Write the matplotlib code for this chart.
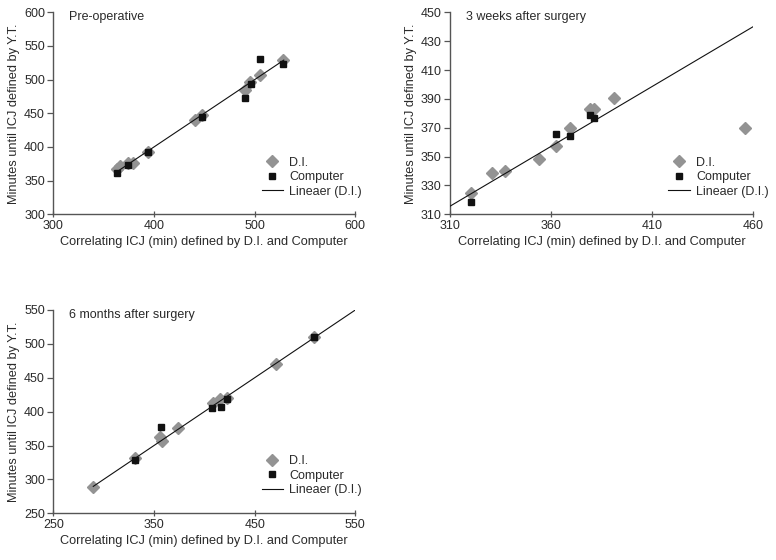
import matplotlib
matplotlib.use("Agg")
import matplotlib.pyplot as plt

plt.rcParams["font.family"] = ["Liberation Sans", "DejaVu Sans"]

# --- data --------------------------------------------------------------
# Pre-operative
pre_di_x = [363.6, 366.3, 374.5, 379.5, 394.4, 440.8, 447.4, 490.4, 495.4, 505.3, 527.9]
pre_di_y = [366.8, 371.7, 376.6, 376.6, 393.0, 440.0, 447.5, 484.6, 496.9, 506.9, 529.2]
pre_pc_x = [363.6, 374.5, 394.4, 447.4, 490.4, 496.1, 505.3, 527.9]
pre_pc_y = [361.8, 373.2, 392.0, 444.9, 473.2, 493.1, 530.2, 523.2]
pre_fit = (1.0, 0.0)            # slope, intercept of the D.I. trendline
pre_fit_x = [362, 529]

# 3 weeks after surgery
w3_di_x = [320.4, 330.8, 337.1, 353.9, 362.2, 369.1, 379.1, 381.2, 391.0, 455.9]
w3_di_y = [324.6, 338.4, 340.2, 348.1, 357.5, 369.6, 382.8, 382.8, 390.8, 369.6]
w3_pc_x = [320.4, 362.2, 369.1, 379.2, 381.2]
w3_pc_y = [318.3, 365.4, 364.5, 378.6, 376.7]
w3_fit = (0.83, 58.3)
w3_fit_x = [310, 460]

# 6 months after surgery
m6_di_x = [289.7, 331.2, 356.0, 357.7, 373.6, 408.3, 415.6, 422.2, 471.2, 509.3]
m6_di_y = [289.2, 331.1, 362.2, 357.1, 375.4, 412.3, 418.7, 420.5, 470.3, 510.6]
m6_pc_x = [331.2, 357.0, 407.9, 416.6, 422.2, 509.3]
m6_pc_y = [328.6, 377.8, 405.8, 406.4, 418.7, 510.6]
m6_fit = (1.0, 0.0)
m6_fit_x = [289.7, 550]

titles = ["Pre-operative", "3 weeks after surgery", "6 months after surgery"]
xticks = [[300, 400, 500, 600], [310, 360, 410, 460], [250, 350, 450, 550]]
yticks = [[300, 350, 400, 450, 500, 550, 600],
          [310, 330, 350, 370, 390, 410, 430, 450],
          [250, 300, 350, 400, 450, 500, 550]]

xlabel = "Correlating ICJ (min) defined by D.I. and Computer"
ylabel = "Minutes until ICJ defined by Y.T."

TEXT = "#2a2a2a"
SPINE = "#555555"

fig = plt.figure(figsize=(7.76, 5.6), dpi=100)
W, H = 776, 560


def px_axes(left, top, right, bottom):
    return fig.add_axes([left / W, 1 - bottom / H, (right - left) / W, (bottom - top) / H])


axes = [px_axes(53.3, 12.3, 355.3, 214.3),
        px_axes(450.0, 12.3, 753.3, 214.3),
        px_axes(53.3, 310.0, 355.3, 513.3)]

panels = [
    (pre_di_x, pre_di_y, pre_pc_x, pre_pc_y, pre_fit, pre_fit_x),
    (w3_di_x, w3_di_y, w3_pc_x, w3_pc_y, w3_fit, w3_fit_x),
    (m6_di_x, m6_di_y, m6_pc_x, m6_pc_y, m6_fit, m6_fit_x),
]
legend_x = [0.69, 0.72, 0.69]

for i, (ax, (dx, dy, cx, cy, fit, fx)) in enumerate(zip(axes, panels)):
    ax.plot(dx, dy, ls="none", marker="D", ms=6.5, color="#939393", mec="#939393",
            label="D.I.", zorder=2)
    ax.plot(cx, cy, ls="none", marker="s", ms=5, color="#111111", mec="#111111",
            label="Computer", zorder=3)
    fy = [fit[0] * x + fit[1] for x in fx]
    ax.plot(fx, fy, color="#111111", lw=0.8, label="Lineaer (D.I.)", zorder=4)

    ax.set_xlim(xticks[i][0], xticks[i][-1])
    ax.set_ylim(yticks[i][0], yticks[i][-1])
    ax.set_xticks(xticks[i])
    ax.set_yticks(yticks[i])
    for s in ("top", "right"):
        ax.spines[s].set_visible(False)
    for s in ("left", "bottom"):
        ax.spines[s].set_color(SPINE)
        ax.spines[s].set_linewidth(1.0)
    ax.tick_params(axis="both", colors=SPINE, labelcolor=TEXT, labelsize=9,
                   length=4, width=0.9, pad=2)
    ax.tick_params(axis="x", direction="inout")
    ax.tick_params(axis="y", direction="out")
    ax.set_xlabel(xlabel, fontsize=9.2, color=TEXT, labelpad=3)
    ax.set_ylabel(ylabel, fontsize=9.2, color=TEXT, labelpad=3)
    ax.text(0.052, 0.975, titles[i], transform=ax.transAxes, fontsize=9,
            color=TEXT, va="center", ha="left")
    leg = ax.legend(loc="upper left", bbox_to_anchor=(legend_x[i], 0.285),
                    frameon=False, fontsize=9, borderpad=0, borderaxespad=0,
                    handlelength=1.7, handletextpad=0.5, labelspacing=0.2)
    for t in leg.get_texts():
        t.set_color(TEXT)

fig.savefig("out.png", dpi=100)
